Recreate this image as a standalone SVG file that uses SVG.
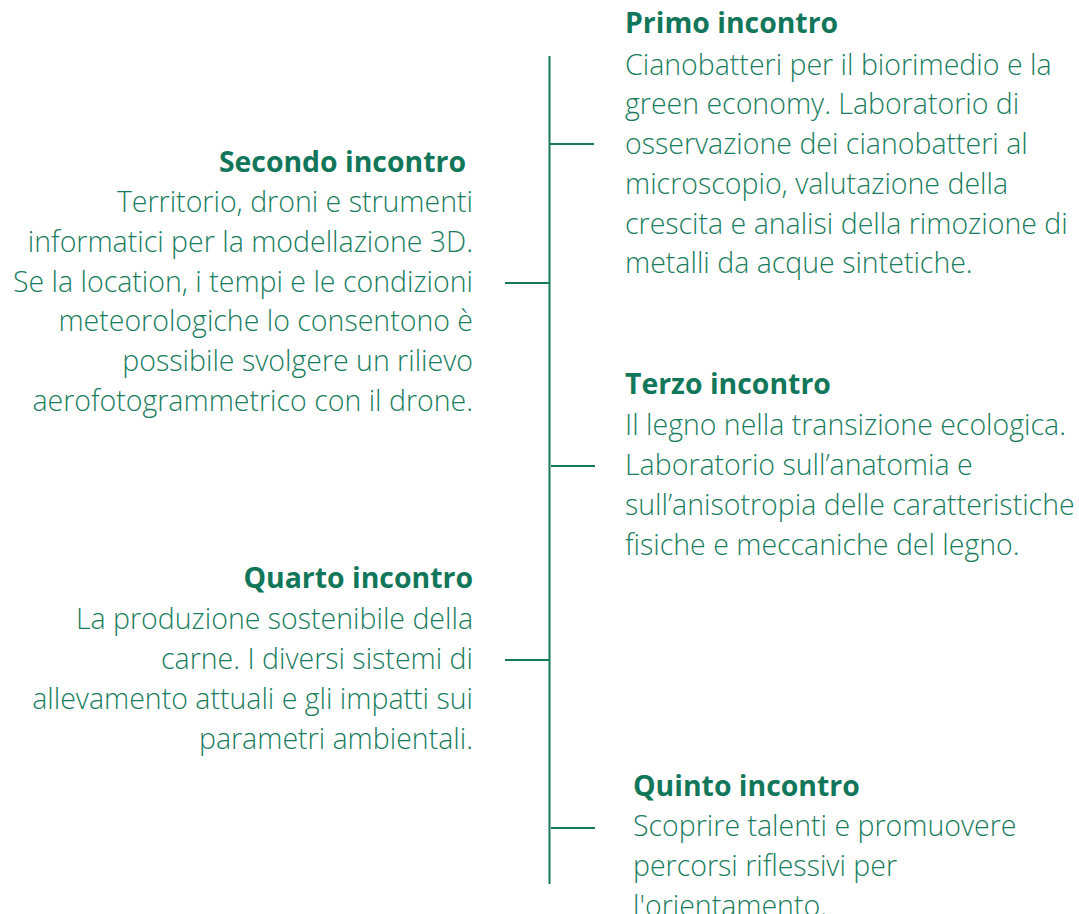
<svg xmlns="http://www.w3.org/2000/svg" width="1079" height="914" viewBox="0 0 1079 914">
<style>
.h{font-family:"Open Sans","Noto Sans",sans-serif;font-weight:700;font-size:28.4px;fill:#12775a}
.b{font-family:"Open Sans","Noto Sans",sans-serif;font-weight:300;font-size:28.5px;fill:#1a7d5e}
.r{text-anchor:end}
.ln{stroke:#17785a;stroke-width:2;fill:none}
</style>
<rect width="1079" height="914" fill="#ffffff"/>
<g id="connectors">
<line class="ln" x1="549.5" y1="56" x2="549.5" y2="884"/>
<line class="ln" x1="550" y1="144" x2="594" y2="144"/>
<line class="ln" x1="505" y1="283" x2="549" y2="283"/>
<line class="ln" x1="551" y1="466" x2="595" y2="466"/>
<line class="ln" x1="505" y1="660" x2="549" y2="660"/>
<line class="ln" x1="551" y1="828" x2="595" y2="828"/>
</g>
<g id="primo">
<text class="h" x="625" y="33">Primo incontro</text>
<text class="b" x="625" y="75">Cianobatteri per il biorimedio e la</text>
<text class="b" x="625" y="114">green economy. Laboratorio di</text>
<text class="b" x="625" y="154">osservazione dei cianobatteri al</text>
<text class="b" x="625" y="194">microscopio, valutazione della</text>
<text class="b" x="625" y="234">crescita e analisi della rimozione di</text>
<text class="b" x="625" y="273">metalli da acque sintetiche.</text>
</g>
<g id="secondo">
<text class="h r" x="466" y="172">Secondo incontro</text>
<text class="b r" x="473" y="212">Territorio, droni e strumenti</text>
<text class="b r" x="473" y="252">informatici per la modellazione 3D.</text>
<text class="b r" x="473" y="292">Se la location, i tempi e le condizioni</text>
<text class="b r" x="473" y="331">meteorologiche lo consentono è</text>
<text class="b r" x="473" y="371">possibile svolgere un rilievo</text>
<text class="b r" x="473" y="411">aerofotogrammetrico con il drone.</text>
</g>
<g id="terzo">
<text class="h" x="625" y="394">Terzo incontro</text>
<text class="b" x="625" y="435">Il legno nella transizione ecologica.</text>
<text class="b" x="625" y="475">Laboratorio sull’anatomia e</text>
<text class="b" x="625" y="515">sull’anisotropia delle caratteristiche</text>
<text class="b" x="625" y="555">fisiche e meccaniche del legno.</text>
</g>
<g id="quarto">
<text class="h r" x="473" y="588">Quarto incontro</text>
<text class="b r" x="473" y="629">La produzione sostenibile della</text>
<text class="b r" x="473" y="669">carne. I diversi sistemi di</text>
<text class="b r" x="473" y="709">allevamento attuali e gli impatti sui</text>
<text class="b r" x="473" y="749">parametri ambientali.</text>
</g>
<g id="quinto">
<text class="h" x="633" y="796">Quinto incontro</text>
<text class="b" x="633" y="836">Scoprire talenti e promuovere</text>
<text class="b" x="633" y="876">percorsi riflessivi per</text>
<text class="b" x="633" y="916">l'orientamento.</text>
</g>
</svg>
